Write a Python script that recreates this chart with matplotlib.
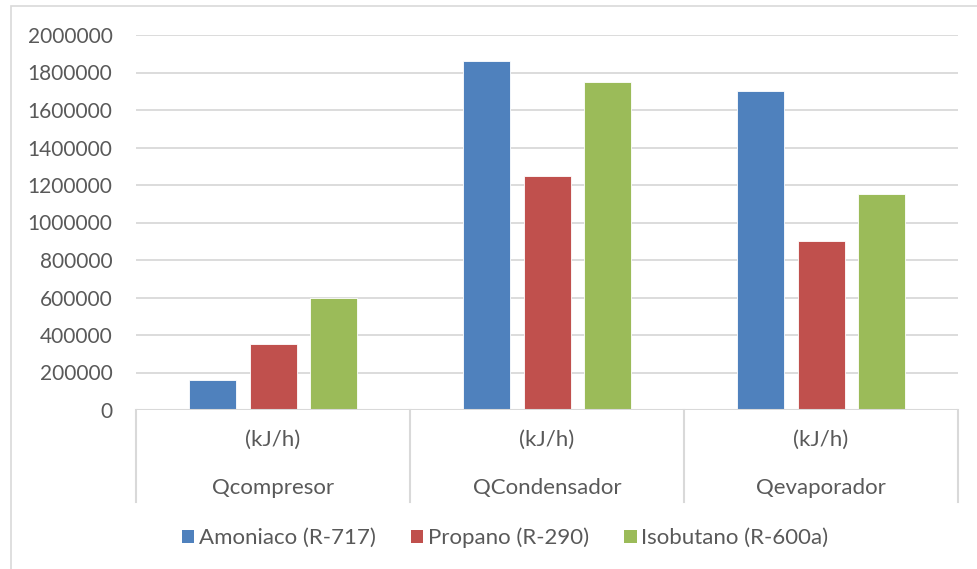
import matplotlib
matplotlib.use("Agg")
import matplotlib.pyplot as plt
from matplotlib.patches import Patch, Rectangle
from matplotlib.lines import Line2D
import numpy as np

categories = ["Qcompresor", "QCondensador", "Qevaporador"]
units = ["(kJ/h)", "(kJ/h)", "(kJ/h)"]
series_names = ["Amoniaco (R-717)", "Propano (R-290)", "Isobutano (R-600a)"]
amoniaco = [160000, 1860000, 1700000]
propano = [350000, 1250000, 900000]
isobutano = [600000, 1750000, 1150000]
yticks = [0, 200000, 400000, 600000, 800000, 1000000, 1200000, 1400000,
          1600000, 1800000, 2000000]

colors = ["#4F81BD", "#C0504D", "#9BBB59"]
text_color = "#595959"
grid_color = "#D9D9D9"

plt.rcParams["font.family"] = ["Lato", "DejaVu Sans"]

W, H = 977, 569
fig = plt.figure(figsize=(W / 100, H / 100), dpi=100)

# chart frame
fig.patches.append(Rectangle((11 / W, -0.1), 1.2, 1 - 6 / H + 0.1,
                             transform=fig.transFigure, fill=False,
                             edgecolor=grid_color, linewidth=1.2))

x0, x1, y_top, y_bot = 136, 958, 35, 410
ax = fig.add_axes([x0 / W, 1 - y_bot / H, (x1 - x0) / W, (y_bot - y_top) / H])

n = len(categories)
x = np.arange(n)
bar_w = 47 / 274
step = 60.5 / 274
series = [amoniaco, propano, isobutano]
for i, (vals, c) in enumerate(zip(series, colors)):
    ax.bar(x + (i - 1) * step, vals, width=bar_w, color=c, zorder=3,
           edgecolor="white", linewidth=0.6)

ax.set_xlim(-0.5, n - 0.5)
ax.set_ylim(0, 2000000)
ax.set_yticks(yticks)
ax.set_yticklabels([str(v) for v in yticks], fontsize=15, color=text_color)
ax.tick_params(axis="y", length=0, pad=17)
ax.set_xticks([])
for s in ax.spines.values():
    s.set_visible(False)
ax.grid(axis="y", color=grid_color, linewidth=1.3, zorder=0)
ax.axhline(0, color=grid_color, linewidth=1.5, zorder=4)

# multi-level category axis
px = 1 / (y_bot - y_top)
for k in range(n + 1):
    ax.add_line(Line2D([k - 0.5, k - 0.5], [0, -(502 - 410) * px],
                       transform=ax.get_xaxis_transform(), color=grid_color,
                       linewidth=1.5, clip_on=False))
for k in range(n):
    ax.text(k, -(440 - 410) * px, units[k], transform=ax.get_xaxis_transform(),
            ha="center", va="center", fontsize=16, color=text_color)
    ax.text(k, -(488 - 410) * px, categories[k], transform=ax.get_xaxis_transform(),
            ha="center", va="center", fontsize=16, color=text_color)

handles = [Patch(facecolor=c, edgecolor="none") for c in colors]
fig.legend(handles, series_names, loc="center", bbox_to_anchor=(505 / W, 1 - 538 / H),
           ncol=3, frameon=False, fontsize=16, labelcolor=text_color,
           handlelength=0.55, handleheight=0.55, handletextpad=0.2,
           columnspacing=1.6)

fig.savefig("out.png", dpi=100)
